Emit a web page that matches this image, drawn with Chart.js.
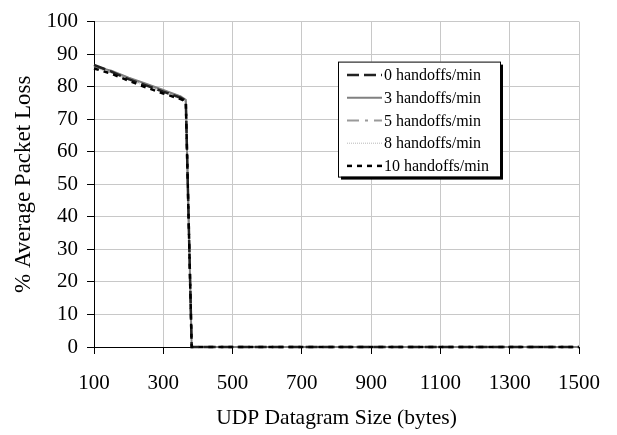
<!DOCTYPE html>
<html>
<head>
<meta charset="utf-8">
<script src="https://cdn.jsdelivr.net/npm/chart.js@4"></script>
<style>
  html, body { margin: 0; padding: 0; background: #fff; }
  #wrap { width: 617px; height: 435px; }
</style>
</head>
<body>
<div id="wrap"><canvas id="lossChart" width="617" height="435"></canvas></div>
<script>
// UDP datagram sizes (bytes) and average packet loss (%) per handoff rate
const sizes = [100, 150, 200, 250, 300, 350, 365, 382, 400, 500, 600, 700, 800, 900, 1000, 1100, 1200, 1300, 1400, 1500];
const loss0 = [86.7, 84.6, 82.3, 80.4, 78.5, 76.6, 75.7, 0, 0, 0, 0, 0, 0, 0, 0, 0, 0, 0, 0, 0];
const loss3 = [86.2, 84.9, 82.8, 80.9, 79.0, 77.0, 76.0, 0, 0, 0, 0, 0, 0, 0, 0, 0, 0, 0, 0, 0];
const loss5 = [86.4, 84.8, 82.6, 80.7, 78.8, 76.9, 75.9, 0, 0, 0, 0, 0, 0, 0, 0, 0, 0, 0, 0, 0];
const loss8 = [85.8, 84.2, 82.0, 80.2, 78.2, 76.2, 75.4, 0, 0, 0, 0, 0, 0, 0, 0, 0, 0, 0, 0, 0];
const loss10 = [85.6, 84.0, 81.8, 79.8, 77.9, 76.2, 75.5, 0, 0, 0, 0, 0, 0, 0, 0, 0, 0, 0, 0, 0];
const seriesLabels = ['0 handoffs/min', '3 handoffs/min', '5 handoffs/min', '8 handoffs/min', '10 handoffs/min'];

const serif = "'Liberation Serif', 'DejaVu Serif', serif";

function points(values) {
    return sizes.map(function (s, i) { return { x: s, y: values[i] }; });
}

// legend drawn inside the plot area, like the original figure
const boxLegend = {
    id: 'boxLegend',
    afterDraw: function (chart) {
        const ctx = chart.ctx;
        const area = chart.chartArea;
        const x0 = area.left + 244, y0 = area.top + 40;
        const w = 162, h = 115;
        ctx.save();
        ctx.fillStyle = '#000';
        ctx.fillRect(x0 + 3, y0 + 3, w, h);
        ctx.fillStyle = '#fff';
        ctx.fillRect(x0, y0, w, h);
        ctx.strokeStyle = '#000';
        ctx.lineWidth = 1;
        ctx.strokeRect(x0 + 0.5, y0 + 0.5, w, h);
        ctx.font = '16px ' + serif;
        ctx.textBaseline = 'middle';
        ctx.textAlign = 'left';
        chart.data.datasets.forEach(function (ds, i) {
            const y = y0 + 13.5 + i * 22.7;
            ctx.beginPath();
            ctx.strokeStyle = ds.borderColor;
            ctx.lineWidth = ds.borderWidth;
            ctx.setLineDash(ds.borderDash || []);
            ctx.moveTo(x0 + 9, y);
            ctx.lineTo(x0 + 44, y);
            ctx.stroke();
            ctx.setLineDash([]);
            ctx.fillStyle = '#000';
            ctx.fillText(ds.label, x0 + 46, y + 1);
        });
        ctx.restore();
    }
};

const ctx = document.getElementById('lossChart').getContext('2d');
const lossChart = new Chart(ctx, {
    type: 'line',
    data: {
        datasets: [{
            label: seriesLabels[0],
            data: points(loss0),
            borderColor: '#222',
            borderWidth: 2.5,
            borderDash: [12, 5],
            order: 1
        }, {
            label: seriesLabels[1],
            data: points(loss3),
            borderColor: '#808080',
            borderWidth: 2,
            order: 2
        }, {
            label: seriesLabels[2],
            data: points(loss5),
            borderColor: '#9a9a9a',
            borderWidth: 2,
            borderDash: [12, 6, 3, 6],
            order: 3
        }, {
            label: seriesLabels[3],
            data: points(loss8),
            borderColor: '#b8b8b8',
            borderWidth: 1,
            borderDash: [1, 1],
            order: 4
        }, {
            label: seriesLabels[4],
            data: points(loss10),
            borderColor: '#000',
            borderWidth: 2.5,
            borderDash: [5, 5],
            order: 0
        }]
    },
    options: {
        responsive: false,
        animation: false,
        devicePixelRatio: 1,
        clip: 4,
        elements: {
            point: { radius: 0 },
            line: { tension: 0, fill: false }
        },
        layout: { padding: { top: 17, right: 33, left: 0, bottom: 0 } },
        plugins: {
            legend: { display: false },
            tooltip: { enabled: false }
        },
        scales: {
            x: {
                type: 'linear',
                min: 100,
                max: 1500,
                afterFit: function (scale) { scale.height = 88; },
                ticks: {
                    stepSize: 200,
                    color: '#000',
                    font: { family: serif, size: 21 },
                    padding: 17,
                    maxRotation: 0,
                    callback: function (v) { return String(v); }
                },
                grid: { color: '#c8c8c8', tickColor: '#000', tickLength: 7 },
                border: { color: '#000', width: 1 },
                title: {
                    display: true,
                    text: 'UDP Datagram Size (bytes)',
                    color: '#000',
                    font: { family: serif, size: 21.5 },
                    padding: { top: 0, bottom: 4 }
                }
            },
            y: {
                min: 0,
                max: 100,
                afterFit: function (scale) { scale.width = 94; },
                ticks: {
                    stepSize: 10,
                    color: '#000',
                    font: { family: serif, size: 21 },
                    padding: 9,
                    callback: function (v) { return String(v); }
                },
                grid: { color: '#c8c8c8', tickColor: '#000', tickLength: 7 },
                border: { color: '#000', width: 1 },
                title: {
                    display: true,
                    text: '% Average Packet Loss',
                    color: '#000',
                    font: { family: serif, size: 23 },
                    padding: { top: 10, bottom: 0 }
                }
            }
        }
    },
    plugins: [boxLegend]
});
</script>
</body>
</html>
